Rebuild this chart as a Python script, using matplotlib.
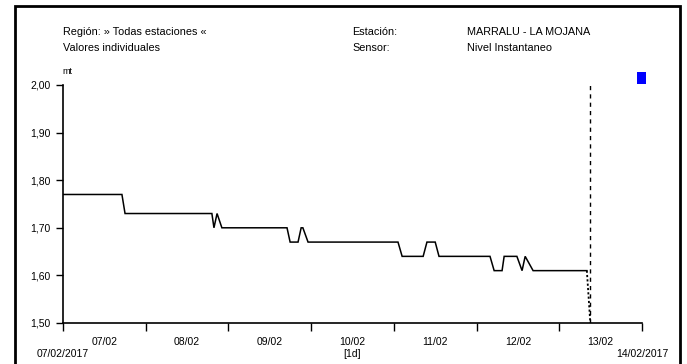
import matplotlib
matplotlib.use("Agg")
import matplotlib.pyplot as plt
from matplotlib.patches import Rectangle
from matplotlib.transforms import blended_transform_factory

plt.rcParams['font.family'] = ['Liberation Sans', 'DejaVu Sans']

# Data: hours since 07/02/2017 00:00, level in metres
hours = [0, 17.1, 18.0, 43.2, 43.8, 44.7, 46.1, 65.0, 65.9, 68.2, 69.1, 69.6, 71.1,
         97.2, 98.4, 104.5, 105.6, 108.0, 109.1, 123.9, 125.1, 127.4, 128.0, 131.7, 133.2,
         134.1, 136.4, 152.0]
level = [1.77, 1.77, 1.73, 1.73, 1.70, 1.73, 1.70, 1.70, 1.67, 1.67, 1.70, 1.70, 1.67,
         1.67, 1.64, 1.64, 1.67, 1.67, 1.64, 1.64, 1.61, 1.61, 1.64, 1.64, 1.61,
         1.64, 1.61, 1.61]
gap_hours = [152.0, 153.0]
gap_level = [1.61, 1.50]
now_hour = 153.0

day_labels = ['07/02', '08/02', '09/02', '10/02', '11/02', '12/02', '13/02']
y_ticks = [1.50, 1.60, 1.70, 1.80, 1.90, 2.00]
y_labels = ['1,50', '1,60', '1,70', '1,80', '1,90', '2,00']

W, H = 687, 364
fig = plt.figure(figsize=(W / 100, H / 100), dpi=100)
fig.patch.set_facecolor('white')

x0, x1 = 63, 642
ytop, ybot = 85, 323
ax = fig.add_axes([x0 / W, (H - ybot) / H, (x1 - x0) / W, (ybot - ytop) / H])
ax.set_xlim(0, 168)
ax.set_ylim(1.50, 2.00)

ax.plot(hours, level, color='black', lw=1.1, solid_joinstyle='miter')
ax.plot(gap_hours, gap_level, color='black', lw=1.3, ls=(0, (1.2, 1.2)))
ax.plot([now_hour, now_hour], [1.50, 2.00], color='black', lw=1.0, ls=(0, (3, 3)))

for s in ['top', 'right']:
    ax.spines[s].set_visible(False)
ax.spines['left'].set_linewidth(1.2)
ax.spines['bottom'].set_linewidth(1.2)

ax.set_yticks(y_ticks)
ax.set_yticklabels(y_labels)
ax.tick_params(axis='y', direction='out', length=5, width=1.0, pad=4, labelsize=7.5,
               colors='black')

ax.set_xticks([24 * i for i in range(8)])
ax.set_xticklabels([])
ax.set_xticks([24 * i + 12 for i in range(7)], minor=True)
ax.set_xticklabels(day_labels, minor=True)
ax.tick_params(axis='x', which='major', direction='out', length=6, width=1.0)
ax.tick_params(axis='x', which='minor', length=0, pad=10, labelsize=7.5)

tr = blended_transform_factory(ax.transData, fig.transFigure)
for xh, txt in [(0, '07/02/2017'), (84, '[1d]'), (168, '14/02/2017')]:
    ax.text(xh, (H - 354) / H, txt, transform=tr, ha='center', va='center', fontsize=7.5)

# header texts
def ftext(x, y, s, **kw):
    fig.text(x / W, (H - y) / H, s, ha='left', va='center', fontsize=7.8, **kw)

ftext(63, 32, 'Región: » Todas estaciones «')
ftext(63, 48, 'Valores individuales')
ftext(352, 32, 'Estación:')
ftext(352, 48, 'Sensor:')
ftext(467, 32, 'MARRALU - LA MOJANA')
ftext(467, 48, 'Nivel Instantaneo')
fig.text(62 / W, (H - 71) / H, 'mt', ha='left', va='center', fontsize=6.5)

# blue legend square
fig.add_artist(Rectangle((637 / W, (H - 84) / H), 9 / W, 12 / H,
                         transform=fig.transFigure, facecolor='#0000ff',
                         edgecolor='none'))
# outer frame
fig.add_artist(Rectangle((15 / W, -0.05), (680 - 15) / W, (H - 6) / H + 0.05,
                         transform=fig.transFigure, fill=False,
                         edgecolor='black', lw=2))

fig.savefig('out.png', dpi=100)
